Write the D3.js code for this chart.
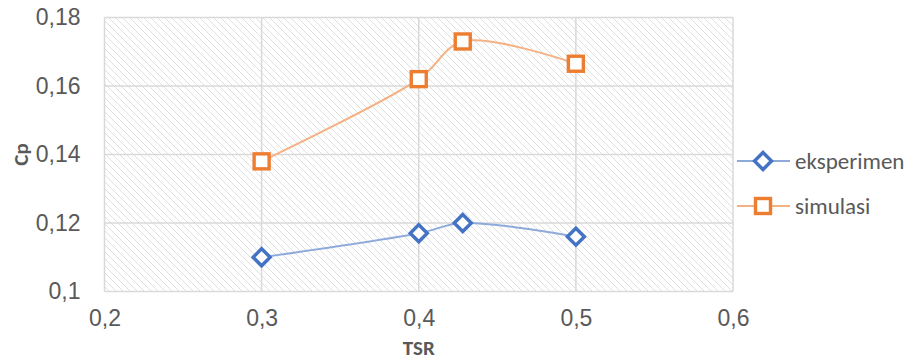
<!DOCTYPE html>
<html>
<head>
<meta charset="utf-8">
<script src="https://cdn.jsdelivr.net/npm/d3@7"></script>
<style>
  html, body { margin: 0; padding: 0; background: #fff; }
  svg { display: block; font-family: Carlito, Calibri, "Liberation Sans", sans-serif; }
</style>
</head>
<body>
<svg id="chart" width="913" height="360"></svg>
<script>
// TSR values and power coefficients
const tsr = [0.3, 0.4, 0.428, 0.5];
const eksperimen = [0.110, 0.117, 0.120, 0.116];
const simulasi = [0.138, 0.162, 0.173, 0.1665];
const seriesNames = ["eksperimen", "simulasi"];
const xTicks = [0.2, 0.3, 0.4, 0.5, 0.6];
const yTicks = [0.1, 0.12, 0.14, 0.16, 0.18];

const svg = d3.select("#chart");
const m = { left: 104.5, top: 17.5, right: 733, bottom: 291.5 };

const x = d3.scaleLinear().domain([0.2, 0.6]).range([m.left, m.right]);
const y = d3.scaleLinear().domain([0.1, 0.18]).range([m.bottom, m.top]);
const fmt = d => String(+d.toFixed(2)).replace(".", ",");

// diagonal hatch fill for the plot area
const defs = svg.append("defs");
const pat = defs.append("pattern")
  .attr("id", "hatch")
  .attr("patternUnits", "userSpaceOnUse")
  .attr("width", 7).attr("height", 7);
pat.append("rect").attr("width", 7).attr("height", 7).attr("fill", "#fff");
pat.append("path")
  .attr("d", "M-1,-1 L8,8 M-5,2 L1,8 M2,-5 L8,1")
  .attr("stroke", "#e0e0e0").attr("stroke-width", 1);

svg.append("rect")
  .attr("x", m.left).attr("y", m.top)
  .attr("width", m.right - m.left).attr("height", m.bottom - m.top)
  .attr("fill", "url(#hatch)");

// gridlines
const grid = svg.append("g").attr("stroke", "#d9d9d9").attr("stroke-width", 1.5);
grid.selectAll("line.h").data(yTicks).join("line")
  .attr("x1", m.left).attr("x2", m.right)
  .attr("y1", d => y(d)).attr("y2", d => y(d));
grid.selectAll("line.v").data(xTicks).join("line")
  .attr("y1", m.top).attr("y2", m.bottom)
  .attr("x1", d => x(d)).attr("x2", d => x(d));

// axes (labels only)
const xAxis = svg.append("g")
  .attr("transform", `translate(0,${m.bottom})`)
  .call(d3.axisBottom(x).tickValues(xTicks).tickFormat(fmt).tickSize(0).tickPadding(18));
const yAxis = svg.append("g")
  .attr("transform", `translate(${m.left},0)`)
  .call(d3.axisLeft(y).tickValues(yTicks).tickFormat(fmt).tickSize(0).tickPadding(24));
[xAxis, yAxis].forEach(a => {
  a.select(".domain").remove();
  a.selectAll("text").attr("fill", "#595959").style("font-size", "23px");
});

svg.append("text")
  .attr("x", (m.left + m.right) / 2).attr("y", 355)
  .attr("text-anchor", "middle")
  .attr("fill", "#595959").style("font-size", "21px").style("font-weight", "bold")
  .text("TSR");
svg.append("text")
  .attr("transform", `translate(28,${(m.top + m.bottom) / 2}) rotate(-90)`)
  .attr("text-anchor", "middle")
  .attr("fill", "#595959").style("font-size", "21px").style("font-weight", "bold")
  .text("Cp");

// series
const series = [
  { name: seriesNames[0], values: eksperimen, color: "#4472c4", line: "#8eaadb", shape: "diamond" },
  { name: seriesNames[1], values: simulasi, color: "#ed7d31", line: "#f4b183", shape: "square" }
];

const line = d3.line()
  .x((d, i) => x(tsr[i]))
  .y(d => y(d))
  .curve(d3.curveCatmullRom.alpha(0.5));

function marker(g, shape, color) {
  if (shape === "diamond") {
    g.append("path").attr("d", "M0,-8.5 L8.5,0 L0,8.5 L-8.5,0 Z")
      .attr("fill", "#fff").attr("stroke", color).attr("stroke-width", 3.4)
      .attr("stroke-linejoin", "miter");
  } else {
    g.append("rect").attr("x", -7.5).attr("y", -7.5).attr("width", 15).attr("height", 15)
      .attr("fill", "#fff").attr("stroke", color).attr("stroke-width", 3.4);
  }
}

series.forEach(s => {
  svg.append("path").datum(s.values)
    .attr("d", line)
    .attr("fill", "none").attr("stroke", s.line).attr("stroke-width", 2);
  s.values.forEach((v, i) => {
    const g = svg.append("g").attr("transform", `translate(${x(tsr[i])},${y(v)})`);
    marker(g, s.shape, s.color);
  });
});

// legend
const legY = [161, 206];
series.forEach((s, i) => {
  const g = svg.append("g").attr("transform", `translate(0,${legY[i]})`);
  g.append("line").attr("x1", 737).attr("x2", 790).attr("y1", 0).attr("y2", 0)
    .attr("stroke", s.line).attr("stroke-width", 2);
  const mg = g.append("g").attr("transform", "translate(763,0)");
  marker(mg, s.shape, s.color);
  g.append("text").attr("x", 795).attr("y", 0).attr("dy", "0.33em")
    .attr("fill", "#595959").style("font-size", "23px").text(s.name);
});
</script>
</body>
</html>
